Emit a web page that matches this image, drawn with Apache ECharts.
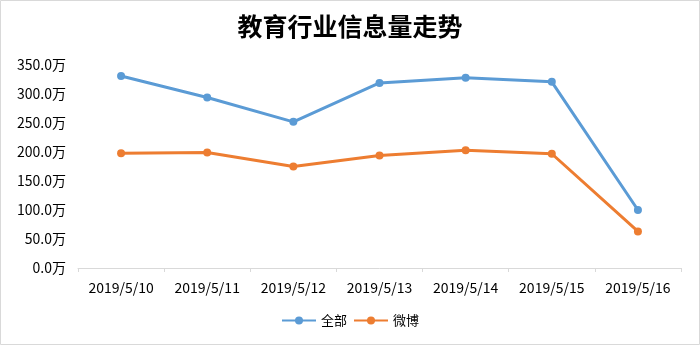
<!DOCTYPE html>
<html><head><meta charset="utf-8">
<script src="https://cdn.jsdelivr.net/npm/echarts@6/dist/echarts.min.js"></script>
<style>html,body{margin:0;padding:0;background:#fff;}#c{width:700px;height:345px;}</style>
</head><body><div id="c"></div>
<script>
const categories = ['2019/5/10','2019/5/11','2019/5/12','2019/5/13','2019/5/14','2019/5/15','2019/5/16'];
const seriesAll = [331, 294, 252, 319, 328, 321, 100];
const seriesWeibo = [198, 199, 175, 194, 203, 197, 63];
const titleText = '教育行业信息量走势';
const seriesNames = ['全部', '微博'];
const colors = ['#5B9BD5', '#ED7D31'];
const font = '"Noto Sans CJK SC", "Noto Sans", sans-serif';

const chart = echarts.init(document.getElementById('c'));
chart.setOption({
  animation: false,
  color: colors,
  textStyle: { fontFamily: font },
  graphic: [{ type: 'rect', shape: { x: 0.5, y: 0.5, width: 699, height: 344 }, style: { fill: 'none', stroke: '#d9d9d9', lineWidth: 1 }, silent: true }],
  title: { text: titleText, left: 'center', top: 9, textStyle: { fontSize: 25, fontWeight: 'bold', color: '#000', fontFamily: font } },
  legend: { bottom: 13, left: 'center', itemWidth: 34, itemHeight: 10, itemGap: 6,
    textStyle: { fontSize: 13, color: '#000', fontFamily: font } ,
    data: seriesNames },
  grid: { left: 78, right: 19, top: 65, bottom: 77 },
  xAxis: { type: 'category', data: categories, boundaryGap: true,
    axisLine: { lineStyle: { color: '#d9d9d9' } },
    axisTick: { show: true, length: 4, lineStyle: { color: '#d9d9d9' } },
    axisLabel: { fontSize: 14, color: '#000', margin: 13, fontFamily: font } },
  yAxis: { type: 'value', min: 0, max: 350, interval: 50,
    axisLine: { show: false }, axisTick: { show: false }, splitLine: { show: false },
    axisLabel: { fontSize: 14, color: '#000', margin: 12, fontFamily: font, formatter: v => v.toFixed(1) + '万' } },
  series: [
    { name: seriesNames[0], type: 'line', data: seriesAll, symbol: 'circle', symbolSize: 8, lineStyle: { width: 3 } },
    { name: seriesNames[1], type: 'line', data: seriesWeibo, symbol: 'circle', symbolSize: 8, lineStyle: { width: 3 } }
  ]
});
</script></body></html>
